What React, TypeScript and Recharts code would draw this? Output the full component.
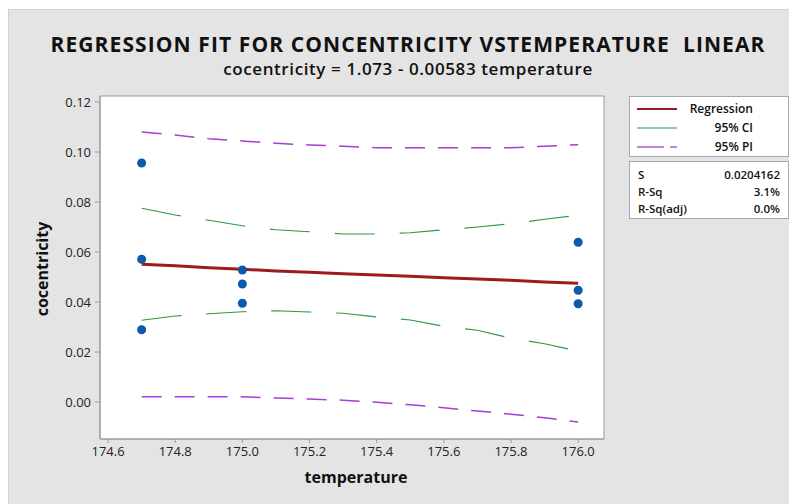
import React from "react";
import {
  ComposedChart,
  Line,
  Scatter,
  XAxis,
  YAxis,
  ReferenceArea,
} from "recharts";

// Observations
const obsTemperature = [174.7, 174.7, 174.7, 175.0, 175.0, 175.0, 176.0, 176.0, 176.0];
const obsCocentricity = [0.0956, 0.0571, 0.0289, 0.0528, 0.0472, 0.0395, 0.0639, 0.0447, 0.0393];

// Fitted curves
const curveX = [174.7, 174.8, 174.9, 175.0, 175.1, 175.2, 175.3, 175.4, 175.5, 175.6, 175.7, 175.8, 175.9, 176.0];
const regression = [0.0551, 0.0545, 0.0537, 0.0531, 0.0524, 0.0519, 0.0513, 0.0508, 0.0503, 0.0497, 0.0492, 0.0487, 0.048, 0.0475];
const ciUpper = [0.0775, 0.0748, 0.0727, 0.0705, 0.0689, 0.0681, 0.0672, 0.0672, 0.0677, 0.0689, 0.07, 0.0713, 0.0731, 0.0747];
const ciLower = [0.0327, 0.0344, 0.0353, 0.0361, 0.0365, 0.036, 0.0355, 0.034, 0.0328, 0.0303, 0.0287, 0.0255, 0.0233, 0.0204];
const piUpper = [0.108, 0.1068, 0.1053, 0.1044, 0.1035, 0.1028, 0.1023, 0.1017, 0.1017, 0.1017, 0.1017, 0.1017, 0.1023, 0.1029];
const piLower = [0.0021, 0.0021, 0.0021, 0.0021, 0.0016, 0.0012, 0.0007, -0.0001, -0.0011, -0.0023, -0.0036, -0.0049, -0.0063, -0.008];

const xTicks = [174.6, 174.8, 175.0, 175.2, 175.4, 175.6, 175.8, 176.0];
const yTicks = [0.0, 0.02, 0.04, 0.06, 0.08, 0.1, 0.12];
const xDomain = [174.576, 176.077];
const yDomain = [-0.0148, 0.1224];

const titleText = "REGRESSION FIT FOR CONCENTRICITY VSTEMPERATURE  LINEAR";
const subtitleText = "cocentricity = 1.073 - 0.00583 temperature";
const xLabel = "temperature";
const yLabel = "cocentricity";
const legendLabels = ["Regression", "95% CI", "95% PI"];
const statNames = ["S", "R-Sq", "R-Sq(adj)"];
const statValues = ["0.0204162", "3.1%", "0.0%"];

const curveRows = curveX.map((x, i) => ({
  x,
  reg: regression[i],
  ciU: ciUpper[i],
  ciL: ciLower[i],
  piU: piUpper[i],
  piL: piLower[i],
}));
const pointRows = obsTemperature.map((x, i) => ({ x, y: obsCocentricity[i] }));

const FONT = "'Open Sans', 'Noto Sans', sans-serif";
const RED = "#9e1b1b";
const GREEN = "#2f9a3c";
const PURPLE = "#a63fd4";
const BLUE = "#0b5aad";
const AXIS = "#9a9a9a";

const Dot = (props: any) => {
  const { cx, cy } = props;
  if (cx == null || cy == null) return null;
  return <circle cx={cx} cy={cy} r={4.5} fill={BLUE} />;
};

export default function App() {
  const W = 789;
  const H = 495;
  return (
    <div
      style={{
        position: "relative",
        width: W,
        height: H,
        marginTop: 1,
        background: "#e4e4e4",
        borderTop: "1px solid #d2d2d2",
        borderLeft: "1px solid #d2d2d2",
        boxSizing: "border-box",
        fontFamily: FONT,
        color: "#111",
      }}
    >
      <div
        style={{
          position: "absolute",
          left: 0,
          width: 798,
          top: 20,
          textAlign: "center",
          fontSize: 21,
          fontWeight: 700,
          lineHeight: "28px",
          whiteSpace: "pre",
          letterSpacing: 1.1,
        }}
      >
        {titleText}
      </div>
      <div
        style={{
          position: "absolute",
          left: 0,
          width: 798,
          top: 48,
          textAlign: "center",
          fontSize: 17,
          fontWeight: 600,
          lineHeight: "22px",
          letterSpacing: 0.6,
        }}
      >
        {subtitleText}
      </div>

      <div style={{ position: "absolute", top: 0, left: 0 }}>
        <ComposedChart
          width={W}
          height={H}
          data={curveRows}
          margin={{ top: 86, right: 194, bottom: 36, left: 0 }}
        >
          <XAxis
            dataKey="x"
            type="number"
            domain={xDomain}
            ticks={xTicks}
            allowDataOverflow
            height={30}
            stroke={AXIS}
            tickSize={4}
            tickMargin={4}
            tick={{ fill: "#222", fontSize: 13, fontFamily: FONT }}
            tickFormatter={(v: number) => v.toFixed(1)}
          />
          <YAxis
            type="number"
            domain={yDomain}
            ticks={yTicks}
            allowDataOverflow
            width={91}
            stroke={AXIS}
            tickSize={5}
            tickMargin={4}
            tick={{ fill: "#222", fontSize: 13, fontFamily: FONT }}
            tickFormatter={(v: number) => v.toFixed(2)}
          />
          <ReferenceArea
            x1={xDomain[0]}
            x2={xDomain[1]}
            y1={yDomain[0]}
            y2={yDomain[1]}
            fill="#ffffff"
            fillOpacity={1}
            stroke={AXIS}
            strokeWidth={1}
          />
          <Line dataKey="piU" stroke={PURPLE} strokeWidth={1.5} strokeDasharray="20 13" dot={false} isAnimationActive={false} />
          <Line dataKey="piL" stroke={PURPLE} strokeWidth={1.5} strokeDasharray="20 13" dot={false} isAnimationActive={false} />
          <Line dataKey="ciU" stroke={GREEN} strokeWidth={1.2} strokeDasharray="40 25" dot={false} isAnimationActive={false} />
          <Line dataKey="ciL" stroke={GREEN} strokeWidth={1.2} strokeDasharray="40 25" dot={false} isAnimationActive={false} />
          <Line dataKey="reg" stroke={RED} strokeWidth={3} dot={false} isAnimationActive={false} />
          <Scatter data={pointRows} dataKey="y" shape={<Dot />} isAnimationActive={false} />
        </ComposedChart>
      </div>

      <div
        style={{
          position: "absolute",
          left: 0,
          top: 259,
          width: 60,
          height: 0,
        }}
      >
        <div
          style={{
            position: "absolute",
            left: 33,
            top: 0,
            transform: "translate(-50%, -50%) rotate(-90deg)",
            fontSize: 16,
            fontWeight: 700,
            whiteSpace: "nowrap",
          }}
        >
          {yLabel}
        </div>
      </div>
      <div
        style={{
          position: "absolute",
          left: 247,
          width: 200,
          top: 456,
          textAlign: "center",
          fontSize: 16,
          fontWeight: 700,
          lineHeight: "22px",
        }}
      >
        {xLabel}
      </div>

      {/* legend */}
      <div
        style={{
          position: "absolute",
          left: 620,
          top: 86,
          width: 160,
          height: 61,
          background: "#fff",
          border: "1px solid #a8a8a8",
          boxSizing: "border-box",
          fontSize: 12,
          fontWeight: 600,
        }}
      >
        <svg width={160} height={61} style={{ position: "absolute", left: 0, top: 0 }}>
          <line x1={7} x2={47} y1={12} y2={12} stroke={RED} strokeWidth={2} />
          <line x1={7} x2={47} y1={31} y2={31} stroke={GREEN} strokeWidth={1.2} />
          <line x1={7} x2={34} y1={50} y2={50} stroke={PURPLE} strokeWidth={1.3} />
          <line x1={40} x2={47} y1={50} y2={50} stroke={PURPLE} strokeWidth={1.3} />
        </svg>
        {legendLabels.map((t, i) => (
          <div
            key={t}
            style={{
              position: "absolute",
              right: 35,
              top: 3 + i * 19,
              lineHeight: "18px",
              whiteSpace: "nowrap",
            }}
          >
            {t}
          </div>
        ))}
      </div>

      {/* stats */}
      <div
        style={{
          position: "absolute",
          left: 620,
          top: 151,
          width: 160,
          height: 58,
          background: "#fff",
          border: "1px solid #a8a8a8",
          boxSizing: "border-box",
          fontSize: 11.5,
          fontWeight: 600,
        }}
      >
        {statNames.map((n, i) => (
          <React.Fragment key={n}>
            <div style={{ position: "absolute", left: 8, top: 5 + i * 17, lineHeight: "16px" }}>{n}</div>
            <div style={{ position: "absolute", right: 8, top: 5 + i * 17, lineHeight: "16px" }}>{statValues[i]}</div>
          </React.Fragment>
        ))}
      </div>
    </div>
  );
}
